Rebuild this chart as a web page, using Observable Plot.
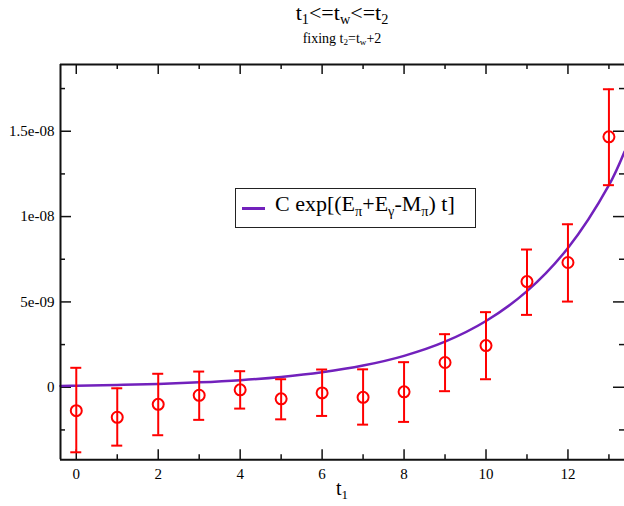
<!DOCTYPE html>
<html>
<head>
<meta charset="utf-8">
<script src="https://cdn.jsdelivr.net/npm/d3@7"></script>
<script src="https://cdn.jsdelivr.net/npm/@observablehq/plot@0.6"></script>
<style>
  html, body { margin: 0; padding: 0; background: white; overflow: hidden; }
  #wrap { position: relative; width: 624px; height: 506px; font-family: "Liberation Serif", Tinos, "DejaVu Serif", serif; color: black; }
  #wrap svg { position: absolute; left: 0; top: 0; }
  .abs { position: absolute; white-space: nowrap; line-height: 1; }
  .sub { font-size: 0.65em; position: relative; top: 0.3em; }
</style>
</head>
<body>
<div id="wrap">
  <div class="abs" id="title" style="left:0; width:684px; text-align:center; top:1.6px; font-size:22px;">t<span class="sub">1</span>&lt;=t<span class="sub">w</span>&lt;=t<span class="sub">2</span></div>
  <div class="abs" id="subtitle" style="left:0; width:684px; text-align:center; top:31.6px; font-size:14px;">fixing t<span class="sub">2</span>=t<span class="sub">w</span>+2</div>
  <div class="abs" id="xlabel" style="left:0; width:684px; text-align:center; top:478px; font-size:20px;">t<span class="sub">1</span></div>
</div>
<script>
// ---- data ----
const t1 = [0, 1, 2, 3, 4, 5, 6, 7, 8, 9, 10, 11, 12, 13];
const value = [-1.37e-9, -1.76e-9, -1.00e-9, -0.47e-9, -0.15e-9, -0.68e-9, -0.33e-9, -0.59e-9, -0.27e-9, 1.45e-9, 2.44e-9, 6.19e-9, 7.31e-9, 14.67e-9];
const errHi = [1.14e-9, -0.06e-9, 0.79e-9, 0.92e-9, 0.94e-9, 0.47e-9, 1.04e-9, 1.05e-9, 1.47e-9, 3.11e-9, 4.40e-9, 8.07e-9, 9.55e-9, 17.46e-9];
const errLo = [-3.81e-9, -3.42e-9, -2.81e-9, -1.91e-9, -1.25e-9, -1.88e-9, -1.68e-9, -2.19e-9, -2.03e-9, -0.23e-9, 0.47e-9, 4.24e-9, 5.02e-9, 11.84e-9];

// fit curve C exp[(E_pi+E_gamma-M_pi) t]
const fitT = [-0.385, 0, 1, 2, 3, 4, 5, 6, 7, 8, 9, 10, 11, 12, 13, 13.38];
const fitV = [0.081e-9, 0.094e-9, 0.136e-9, 0.198e-9, 0.288e-9, 0.417e-9, 0.605e-9, 0.878e-9, 1.27e-9, 1.84e-9, 2.67e-9, 3.88e-9, 5.63e-9, 8.16e-9, 11.84e-9, 13.8e-9];

// axes
const xDomain = [-0.385, 13.38];
const yDomain = [-4.25e-9, 1.891e-8];
const xMajor = [0, 2, 4, 6, 8, 10, 12];
const xMinor = [1, 3, 5, 7, 9, 11, 13];
const yMajor = [0, 5e-9, 1e-8, 1.5e-8];
const yMajorLabels = ["0", "5e-09", "1e-08", "1.5e-08"];
const yMinor = [-2.5e-9, 2.5e-9, 7.5e-9, 1.25e-8, 1.75e-8];

const legendLabel = "C exp[(E_π+E_γ-M_π) t]";

const points = t1.map((t, i) => ({t, v: value[i], lo: errLo[i], hi: errHi[i]}));
const fit = fitT.map((t, i) => ({t, v: fitV[i]}));

const RED = "#ff0000";
const PURPLE = "#7221bc";
const FONT = "'Liberation Serif', Tinos, 'DejaVu Serif', serif";
const xLo = xDomain[0], xHi = xDomain[1], yLo = yDomain[0], yHi = yDomain[1];

const chart = Plot.plot({
  width: 624,
  height: 506,
  marginLeft: 60,
  marginRight: 0,
  marginTop: 64,
  marginBottom: 46.7,
  x: {domain: xDomain},
  y: {domain: yDomain},
  style: {fontFamily: FONT, fontSize: "15px", background: "white", color: "black", overflow: "visible"},
  marks: [
    Plot.axisX({ticks: xMajor, tickSize: 0, tickPadding: 9, label: null, fontSize: 15, fontFamily: FONT}),
    Plot.axisY({ticks: yMajor, tickSize: 0, tickPadding: 6, label: null, fontSize: 15, fontFamily: FONT,
      tickFormat: d => yMajorLabels[yMajor.indexOf(d)]}),
    // inward ticks: left & right (major / minor)
    Plot.ruleY(yMajor, {y: d => d, x1: xLo, x2: xLo, insetRight: -11, stroke: "#111", strokeWidth: 1.5}),
    Plot.ruleY(yMinor, {y: d => d, x1: xLo, x2: xLo, insetRight: -5, stroke: "#111", strokeWidth: 1.5}),
    Plot.ruleY(yMajor, {y: d => d, x1: xHi, x2: xHi, insetLeft: -11, stroke: "#111", strokeWidth: 1.5}),
    Plot.ruleY(yMinor, {y: d => d, x1: xHi, x2: xHi, insetLeft: -5, stroke: "#111", strokeWidth: 1.5}),
    // inward ticks: bottom & top
    Plot.ruleX(xMajor, {x: d => d, y1: yLo, y2: yLo, insetTop: -10, stroke: "#111", strokeWidth: 1.5}),
    Plot.ruleX(xMinor, {x: d => d, y1: yLo, y2: yLo, insetTop: -5, stroke: "#111", strokeWidth: 1.5}),
    Plot.ruleX(xMajor, {x: d => d, y1: yHi, y2: yHi, insetBottom: -10, stroke: "#111", strokeWidth: 1.5}),
    Plot.ruleX(xMinor, {x: d => d, y1: yHi, y2: yHi, insetBottom: -5, stroke: "#111", strokeWidth: 1.5}),
    // fit curve
    Plot.line(fit, {x: "t", y: "v", curve: "catmull-rom", stroke: PURPLE, strokeWidth: 2.5}),
    // error bars
    Plot.ruleX(points, {x: "t", y1: "lo", y2: "hi", stroke: RED, strokeWidth: 2}),
    Plot.ruleY(points, {y: "hi", x1: "t", x2: "t", insetLeft: -5.5, insetRight: -5.5, stroke: RED, strokeWidth: 2}),
    Plot.ruleY(points, {y: "lo", x1: "t", x2: "t", insetLeft: -5.5, insetRight: -5.5, stroke: RED, strokeWidth: 2}),
    Plot.dot(points, {x: "t", y: "v", r: 5.5, stroke: RED, strokeWidth: 2, fill: "none"}),
    // frame (left, bottom, top)
    Plot.ruleX([xLo], {stroke: "#111", strokeWidth: 2}),
    Plot.ruleY([yLo], {stroke: "#111", strokeWidth: 2}),
    Plot.ruleY([yHi], {stroke: "#111", strokeWidth: 2})
  ]
});

const wrap = document.getElementById("wrap");
wrap.insertBefore(chart, wrap.firstChild);

// legend box (HTML overlay, real text)
const box = document.createElement("div");
box.className = "abs";
box.style.cssText = "left:235px; top:188px; width:241px; height:40px; border:1.5px solid #222; box-sizing:border-box; background:white;";
wrap.appendChild(box);
const swatch = document.createElement("div");
swatch.className = "abs";
swatch.style.cssText = `left:242px; top:207px; width:23px; height:2.5px; background:${PURPLE};`;
wrap.appendChild(swatch);
const lt = document.createElement("div");
lt.className = "abs";
lt.style.cssText = "left:275px; top:193.3px; font-size:22px;";
lt.innerHTML = legendLabel.replace(/_(.)/g, '<span class="sub">$1</span>');
wrap.appendChild(lt);
</script>
</body>
</html>
